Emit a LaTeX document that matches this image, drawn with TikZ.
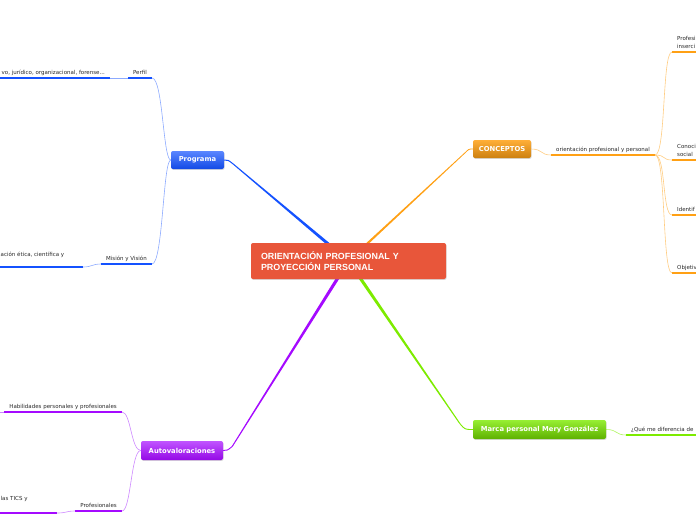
\documentclass[tikz,border=0pt]{standalone}
\usepackage{fontspec}
\setmainfont{DejaVu Sans}
\newfontfamily\titlefont{Liberation Sans}
\usetikzlibrary{calc,shadows,backgrounds}

\definecolor{cred}{RGB}{232,86,58}
\definecolor{cblue}{RGB}{20,82,255}
\definecolor{lblue}{RGB}{140,170,255}
\definecolor{corange}{RGB}{255,160,20}
\definecolor{lorange}{RGB}{255,205,130}
\definecolor{cgreen}{RGB}{125,235,0}
\definecolor{lgreen}{RGB}{175,245,95}
\definecolor{cpurple}{RGB}{165,10,255}
\definecolor{lpurple}{RGB}{205,135,255}
\definecolor{ctext}{RGB}{40,40,40}

\tikzset{
  topic/.style={rounded corners=2pt, text=white, inner sep=0pt,
    font=\bfseries\fontsize{6.8}{8}\selectfont,
    drop shadow={shadow xshift=0.6pt, shadow yshift=-0.9pt, opacity=0.3}},
  sublabel/.style={font=\fontsize{5.5}{7.5}\selectfont, text=ctext,
    inner xsep=5pt, inner ysep=3.8pt, text depth=0pt, align=left},
  ubar/.style={line width=2.4pt},
  twig/.style={line width=0.6pt},
}

\begin{document}
\begin{tikzpicture}[x=1pt, y=-1pt]
  \useasboundingbox (0,0) rectangle (696,520);
  \coordinate (edgeL) at (0,0);
  \coordinate (edgeR) at (696,0);

  % nodo central
  \node[fill=cred, rounded corners=2pt, text=white, text width=175pt, inner xsep=10pt,
    minimum height=36pt, align=left, font=\titlefont\bfseries\fontsize{8.9}{11}\selectfont,
    drop shadow={shadow xshift=0.6pt, shadow yshift=-0.9pt, opacity=0.3}]
    (centre) at (348.5,261) {ORIENTACIÓN PROFESIONAL Y\\PROYECCIÓN PERSONAL};

  % temas
  \node[topic, top color=cblue!70!white, bottom color=cblue!90!black, minimum width=53pt, minimum height=18pt]
    (prog) at (197.5,160) {Programa};
  \node[topic, top color=corange!85!white, bottom color=corange!80!black, minimum width=58pt, minimum height=18pt]
    (conc) at (502,149) {CONCEPTOS};
  \node[topic, top color=cgreen!80!white, bottom color=cgreen!75!black, minimum width=133pt, minimum height=19pt]
    (marca) at (539.5,429.5) {Marca personal Mery González};
  \node[topic, top color=cpurple!70!white, bottom color=cpurple!90!black, minimum width=82pt, minimum height=19pt]
    (auto) at (182,450.5) {Autovaloraciones};

  % subtemas
  \node[sublabel, anchor=south east] (perfil) at (152,78) {Perfil};
  \node[sublabel, anchor=south east] (forense) at (110,78) {vo, jurídico, organizacional, forense...};
  \node[sublabel, anchor=south east] (mision) at (152,264) {Misión y Visión};
  \node[sublabel, inner xsep=0pt, anchor=base west] (etica) at (0.5,256) {ación ética, científica y};
  \coordinate (eticaR) at (83,267);

  \node[sublabel, anchor=south west] (orient) at (551,155) {orientación profesional y personal};
  \node[sublabel, anchor=south west] (k1) at (672,52) {Profesi\\inserci};
  \node[sublabel, anchor=south west] (k2) at (672,160) {Conoci\\social};
  \node[sublabel, anchor=south west] (k3) at (672,215) {Identif};
  \node[sublabel, anchor=south west] (k4) at (672,273) {Objetiv};

  \node[sublabel, anchor=south west] (que) at (626,435) {¿Qué me diferencia de};

  \node[sublabel, anchor=south east] (habil) at (122,412) {Habilidades personales y profesionales};
  \node[sublabel, anchor=south east] (profes) at (122,511) {Profesionales};
  \node[sublabel, inner xsep=0pt, anchor=base west] (tics) at (0.5,500) {las TICS y};
  \coordinate (ticsR) at (57,513);

  % subrayados
  \draw[ubar, cblue] (perfil.south west) -- (perfil.south east);
  \draw[ubar, cblue] (forense.south east -| edgeL) -- (forense.south east);
  \draw[ubar, cblue] (mision.south west) -- (mision.south east);
  \draw[ubar, cblue] (eticaR -| edgeL) -- (eticaR);
  \draw[ubar, corange] (orient.south west) -- (orient.south east);
  \foreach \k in {k1,k2,k3,k4}
    \draw[ubar, corange] (\k.south west) -- (\k.south west -| edgeR);
  \draw[ubar, cgreen] (que.south west) -- (que.south west -| edgeR);
  \draw[ubar, cpurple] (habil.south west) -- (habil.south east);
  \draw[ubar, cpurple] (profes.south west) -- (profes.south east);
  \draw[ubar, cpurple] (ticsR -| edgeL) -- (ticsR);

  \begin{scope}[on background layer]
    % ramas principales
    \coordinate (kP) at ($(prog.east)+(9,4)$);
    \fill[cblue] ($(centre)!1.7pt!90:(kP)$) -- ($(centre)!1.7pt!-90:(kP)$)
      -- ($(kP)!0.5pt!90:(centre)$) -- ($(kP)!0.5pt!-90:(centre)$) -- cycle;
    \draw[cblue, line width=1pt] (kP) .. controls ($(prog.east)+(4,0)$) .. (prog.east);

    \coordinate (kC) at ($(conc.west)+(-8,4)$);
    \fill[corange] ($(centre)!1.2pt!90:(kC)$) -- ($(centre)!1.2pt!-90:(kC)$)
      -- ($(kC)!0.4pt!90:(centre)$) -- ($(kC)!0.4pt!-90:(centre)$) -- cycle;
    \draw[corange, line width=0.8pt] (kC) .. controls ($(conc.west)+(-4,0)$) .. (conc.west);

    \coordinate (kM) at ($(marca.west)+(-13,-6)$);
    \fill[cgreen] ($(centre)!1.7pt!90:(kM)$) -- ($(centre)!1.7pt!-90:(kM)$)
      -- ($(kM)!0.5pt!90:(centre)$) -- ($(kM)!0.5pt!-90:(centre)$) -- cycle;
    \draw[cgreen, line width=0.9pt] (kM) .. controls ($(marca.west)+(-8,0)$) .. (marca.west);

    \coordinate (kA) at ($(auto.east)+(9,-4)$);
    \fill[cpurple] ($(centre)!1.7pt!90:(kA)$) -- ($(centre)!1.7pt!-90:(kA)$)
      -- ($(kA)!0.5pt!90:(centre)$) -- ($(kA)!0.5pt!-90:(centre)$) -- cycle;
    \draw[cpurple, line width=0.9pt] (kA) .. controls ($(auto.east)+(4,0)$) .. (auto.east);
  \end{scope}

  % ramas secundarias
  \draw[twig, lblue] (prog.west) .. controls (163,160) and (163,78) .. (perfil.south east);
  \draw[twig, lblue] (prog.west) .. controls (163,160) and (163,264) .. (mision.south east);
  \draw[twig, lblue] (perfil.south west) -- (forense.south east);
  \draw[twig, lblue] (mision.south west) .. controls (92,264) and (92,267) .. (eticaR);

  \draw[twig, lorange] (conc.east) .. controls (543,149) and (540,155) .. (orient.south west);
  \foreach \k in {k1,k2,k3,k4}
    \draw[twig, lorange] (orient.south east) .. controls (666,155) and (662,155 |- \k.south west) .. (\k.south west);

  \draw[twig, lgreen] (marca.east) .. controls (618,429.5) and (615,435) .. (que.south west);

  \draw[twig, lpurple] (auto.west) .. controls (131,450.5) and (131,412) .. (habil.south east);
  \draw[twig, lpurple] (auto.west) .. controls (131,450.5) and (131,511) .. (profes.south east);
  \draw[twig, lpurple] (habil.south west) -- (habil.south west -| edgeL);
  \draw[twig, lpurple] (profes.south west) .. controls (66,511) and (67,513) .. (ticsR);
\end{tikzpicture}
\end{document}
